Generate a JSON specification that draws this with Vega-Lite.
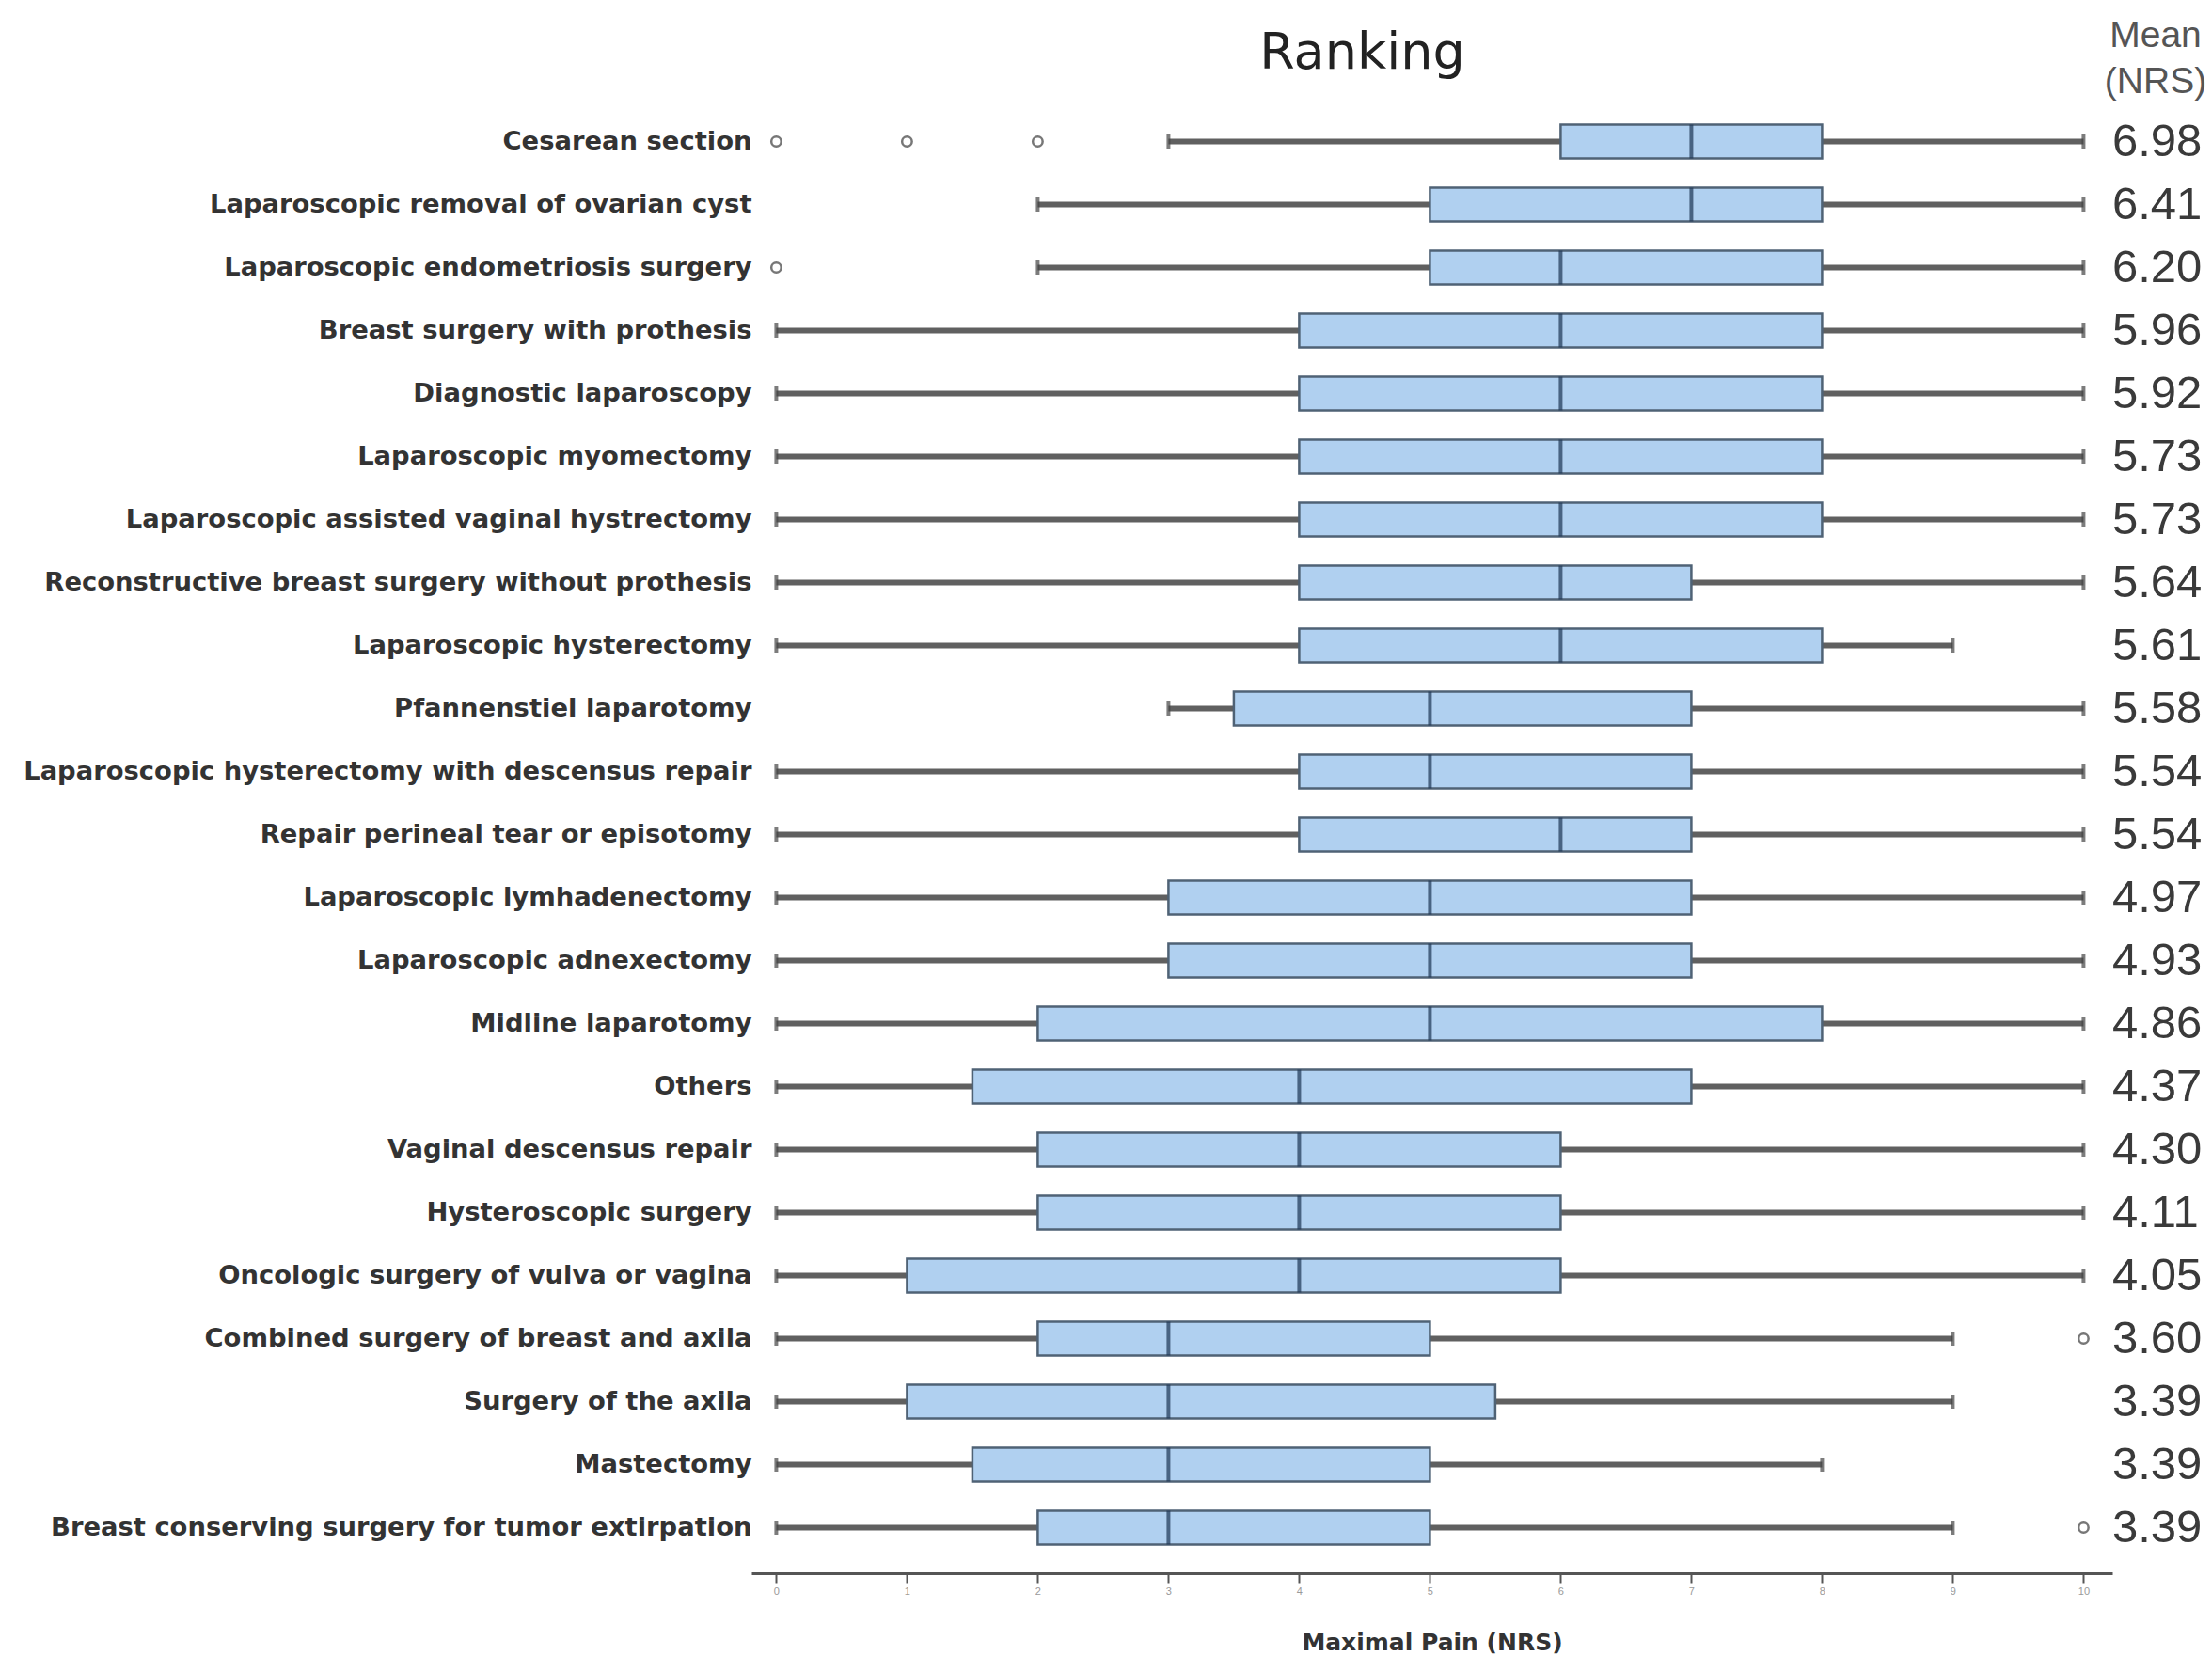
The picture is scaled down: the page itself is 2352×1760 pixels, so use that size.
{
  "$schema": "https://vega.github.io/schema/vega-lite/v6.json",
  "background": "white",
  "padding": {"left": 24, "top": 19, "right": 6, "bottom": 2},
  "datasets": {
    "pain": [
      {"proc": "Cesarean section", "lo": 3, "q1": 6, "med": 7, "q3": 8, "hi": 10, "mean": 6.98, "outliers": [0, 1, 2]},
      {"proc": "Laparoscopic removal of ovarian cyst", "lo": 2, "q1": 5, "med": 7, "q3": 8, "hi": 10, "mean": 6.41, "outliers": []},
      {"proc": "Laparoscopic endometriosis surgery", "lo": 2, "q1": 5, "med": 6, "q3": 8, "hi": 10, "mean": 6.20, "outliers": [0]},
      {"proc": "Breast surgery with prothesis", "lo": 0, "q1": 4, "med": 6, "q3": 8, "hi": 10, "mean": 5.96, "outliers": []},
      {"proc": "Diagnostic laparoscopy", "lo": 0, "q1": 4, "med": 6, "q3": 8, "hi": 10, "mean": 5.92, "outliers": []},
      {"proc": "Laparoscopic myomectomy", "lo": 0, "q1": 4, "med": 6, "q3": 8, "hi": 10, "mean": 5.73, "outliers": []},
      {"proc": "Laparoscopic assisted vaginal hystrectomy", "lo": 0, "q1": 4, "med": 6, "q3": 8, "hi": 10, "mean": 5.73, "outliers": []},
      {"proc": "Reconstructive breast surgery without prothesis", "lo": 0, "q1": 4, "med": 6, "q3": 7, "hi": 10, "mean": 5.64, "outliers": []},
      {"proc": "Laparoscopic hysterectomy", "lo": 0, "q1": 4, "med": 6, "q3": 8, "hi": 9, "mean": 5.61, "outliers": []},
      {"proc": "Pfannenstiel laparotomy", "lo": 3, "q1": 3.5, "med": 5, "q3": 7, "hi": 10, "mean": 5.58, "outliers": []},
      {"proc": "Laparoscopic hysterectomy with descensus repair", "lo": 0, "q1": 4, "med": 5, "q3": 7, "hi": 10, "mean": 5.54, "outliers": []},
      {"proc": "Repair perineal tear or episotomy", "lo": 0, "q1": 4, "med": 6, "q3": 7, "hi": 10, "mean": 5.54, "outliers": []},
      {"proc": "Laparoscopic lymhadenectomy", "lo": 0, "q1": 3, "med": 5, "q3": 7, "hi": 10, "mean": 4.97, "outliers": []},
      {"proc": "Laparoscopic adnexectomy", "lo": 0, "q1": 3, "med": 5, "q3": 7, "hi": 10, "mean": 4.93, "outliers": []},
      {"proc": "Midline laparotomy", "lo": 0, "q1": 2, "med": 5, "q3": 8, "hi": 10, "mean": 4.86, "outliers": []},
      {"proc": "Others", "lo": 0, "q1": 1.5, "med": 4, "q3": 7, "hi": 10, "mean": 4.37, "outliers": []},
      {"proc": "Vaginal descensus repair", "lo": 0, "q1": 2, "med": 4, "q3": 6, "hi": 10, "mean": 4.30, "outliers": []},
      {"proc": "Hysteroscopic surgery", "lo": 0, "q1": 2, "med": 4, "q3": 6, "hi": 10, "mean": 4.11, "outliers": []},
      {"proc": "Oncologic surgery of vulva or vagina", "lo": 0, "q1": 1, "med": 4, "q3": 6, "hi": 10, "mean": 4.05, "outliers": []},
      {"proc": "Combined surgery of breast and axila", "lo": 0, "q1": 2, "med": 3, "q3": 5, "hi": 9, "mean": 3.60, "outliers": [10]},
      {"proc": "Surgery of the axila", "lo": 0, "q1": 1, "med": 3, "q3": 5.5, "hi": 9, "mean": 3.39, "outliers": []},
      {"proc": "Mastectomy", "lo": 0, "q1": 1.5, "med": 3, "q3": 5, "hi": 8, "mean": 3.39, "outliers": []},
      {"proc": "Breast conserving surgery for tumor extirpation", "lo": 0, "q1": 2, "med": 3, "q3": 5, "hi": 9, "mean": 3.39, "outliers": [10]}
    ]
  },
  "data": {"name": "pain"},
  "spacing": -9,
  "hconcat": [
    {
      "width": 1447,
      "height": 1541,
      "title": {
        "text": "Ranking",
        "font": "DejaVu Sans",
        "fontSize": 54,
        "fontWeight": "normal",
        "color": "#222222",
        "anchor": "middle",
        "dx": -74,
        "offset": 33
      },
      "encoding": {
        "y": {
          "field": "proc",
          "type": "nominal",
          "sort": null,
          "scale": {"paddingInner": 0, "paddingOuter": 0},
          "axis": {
            "title": null,
            "labelFont": "DejaVu Sans",
            "labelFontWeight": "bold",
            "labelFontSize": 27.4,
            "labelColor": "#333333",
            "labelPadding": 0,
            "labelLimit": 1200,
            "ticks": false,
            "domain": false,
            "grid": false
          }
        }
      },
      "layer": [
        {
          "mark": {"type": "rule", "strokeWidth": 6, "color": "#606060"},
          "encoding": {
            "x": {
              "field": "lo",
              "type": "quantitative",
              "scale": {"domain": [-0.19, 10.22], "nice": false, "zero": false},
              "axis": {
                "title": "Maximal Pain (NRS)",
                "titleFont": "DejaVu Sans",
                "titleFontWeight": "bold",
                "titleFontSize": 25,
                "titleColor": "#333333",
                "titlePadding": 37,
                "values": [0, 1, 2, 3, 4, 5, 6, 7, 8, 9, 10],
                "format": "d",
                "offset": 15,
                "grid": false,
                "domainColor": "#555555",
                "domainWidth": 3,
                "tickColor": "#555555",
                "tickWidth": 2,
                "tickSize": 10,
                "labelFont": "Liberation Sans",
                "labelFontSize": 11,
                "labelColor": "#9a9a9a",
                "labelPadding": 3
              }
            },
            "x2": {"field": "hi"}
          }
        },
        {
          "mark": {"type": "tick", "orient": "vertical", "size": 15, "thickness": 4, "color": "#444444"},
          "encoding": {"x": {"field": "lo", "type": "quantitative"}}
        },
        {
          "mark": {"type": "tick", "orient": "vertical", "size": 15, "thickness": 4, "color": "#444444"},
          "encoding": {"x": {"field": "hi", "type": "quantitative"}}
        },
        {
          "mark": {"type": "bar", "size": 36, "fill": "#b0d0f0", "stroke": "#4f6275", "strokeWidth": 2.5},
          "encoding": {
            "x": {"field": "q1", "type": "quantitative"},
            "x2": {"field": "q3"}
          }
        },
        {
          "mark": {"type": "tick", "orient": "vertical", "size": 36, "thickness": 4, "color": "#1d3552"},
          "encoding": {"x": {"field": "med", "type": "quantitative"}}
        },
        {
          "transform": [{"flatten": ["outliers"]}],
          "mark": {"type": "point", "shape": "circle", "size": 110, "filled": true, "fill": "white", "stroke": "#777777", "strokeWidth": 2.5, "opacity": 1},
          "encoding": {"x": {"field": "outliers", "type": "quantitative"}}
        }
      ]
    },
    {
      "width": 92,
      "height": 1541,
      "title": {
        "text": ["Mean", "(NRS)"],
        "font": "Liberation Sans",
        "fontSize": 39,
        "fontWeight": "normal",
        "color": "#555555",
        "lineHeight": 49,
        "anchor": "middle",
        "offset": 10
      },
      "mark": {"type": "text", "font": "Liberation Sans", "fontSize": 49, "color": "#3a3a3a", "baseline": "middle", "align": "left"},
      "encoding": {
        "x": {"datum": 0, "type": "quantitative", "scale": {"domain": [0, 1]}, "axis": null},
        "y": {"field": "proc", "type": "nominal", "sort": null, "scale": {"paddingInner": 0, "paddingOuter": 0}, "axis": null},
        "text": {"field": "mean", "type": "quantitative", "format": ".2f"}
      }
    }
  ],
  "config": {"view": {"stroke": null}}
}
